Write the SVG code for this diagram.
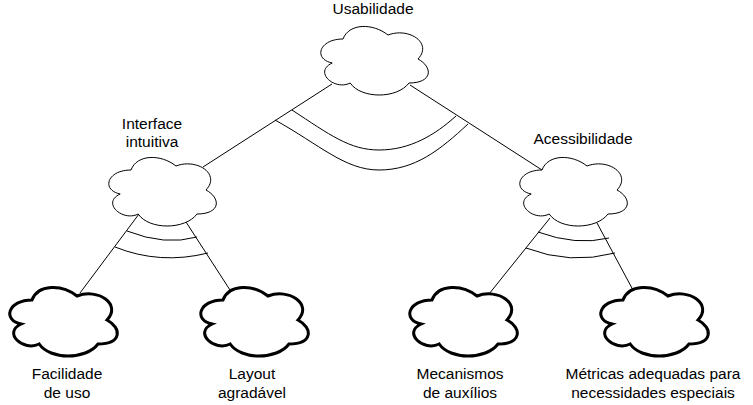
<svg xmlns="http://www.w3.org/2000/svg" xmlns:xlink="http://www.w3.org/1999/xlink" width="753" height="405" viewBox="0 0 753 405">
<style>
.cloud{fill:#fff;stroke:#000;stroke-width:1}
.thick{stroke-width:3}
.edge{fill:none;stroke:#000;stroke-width:1}
text{font-family:"Liberation Sans",Arial,Helvetica,sans-serif;font-size:15.5px;fill:#000;text-anchor:middle}
</style>
<defs>
<path id="cloud" d="M30,20 C6,20 0,40 19.2,44 C0,52.8 21.6,72 37.2,64 C48,80 84,80 96,64 C120,64 120,48 105,40 C120,24 96,8 75,16 C60,4 36,4 30,20 Z"/>
</defs>
<rect width="753" height="405" fill="#fff"/>
<g id="connectors">
<path class="edge" d="M332,84 L203,167"/>
<path class="edge" d="M410,85 L542,170"/>
<path class="edge" d="M292,110 C330,135 350,150 379,150 C410,150 435,135 456,116"/>
<path class="edge" d="M275,120 C320,145 345,170 379,170 C415,170 440,150 468,124"/>
<path class="edge" d="M139,214 L80,293"/>
<path class="edge" d="M186,222 L230,290"/>
<path class="edge" d="M127,231 Q165,246 197,237"/>
<path class="edge" d="M115,247 Q160,265 208,253"/>
<path class="edge" d="M550,218 L489,294"/>
<path class="edge" d="M597,223 L633,290"/>
<path class="edge" d="M538,232 Q576,246 609,238"/>
<path class="edge" d="M526,248 Q570,265 615,253"/>
</g>
<g id="usabilidade">
<use xlink:href="#cloud" href="#cloud" class="cloud" x="313" y="19"/>
<text x="373" y="14">Usabilidade</text>
</g>
<g id="interface">
<use xlink:href="#cloud" href="#cloud" class="cloud" x="101" y="150"/>
<text x="152" y="129">Interface</text>
<text x="152" y="147">intuitiva</text>
</g>
<g id="acessibilidade">
<use xlink:href="#cloud" href="#cloud" class="cloud" x="512" y="150"/>
<text x="583" y="144">Acessibilidade</text>
</g>
<g id="facilidade">
<use xlink:href="#cloud" href="#cloud" class="cloud thick" x="2" y="280"/>
<text x="67" y="379">Facilidade</text>
<text x="67" y="398">de uso</text>
</g>
<g id="layout">
<use xlink:href="#cloud" href="#cloud" class="cloud thick" x="193" y="280"/>
<text x="252" y="379">Layout</text>
<text x="252" y="398">agradável</text>
</g>
<g id="mecanismos">
<use xlink:href="#cloud" href="#cloud" class="cloud thick" x="402" y="280"/>
<text x="460" y="379">Mecanismos</text>
<text x="460" y="398">de auxílios</text>
</g>
<g id="metricas">
<use xlink:href="#cloud" href="#cloud" class="cloud thick" x="593" y="280"/>
<text x="653" y="379">Métricas adequadas para</text>
<text x="653" y="398">necessidades especiais</text>
</g>
</svg>
